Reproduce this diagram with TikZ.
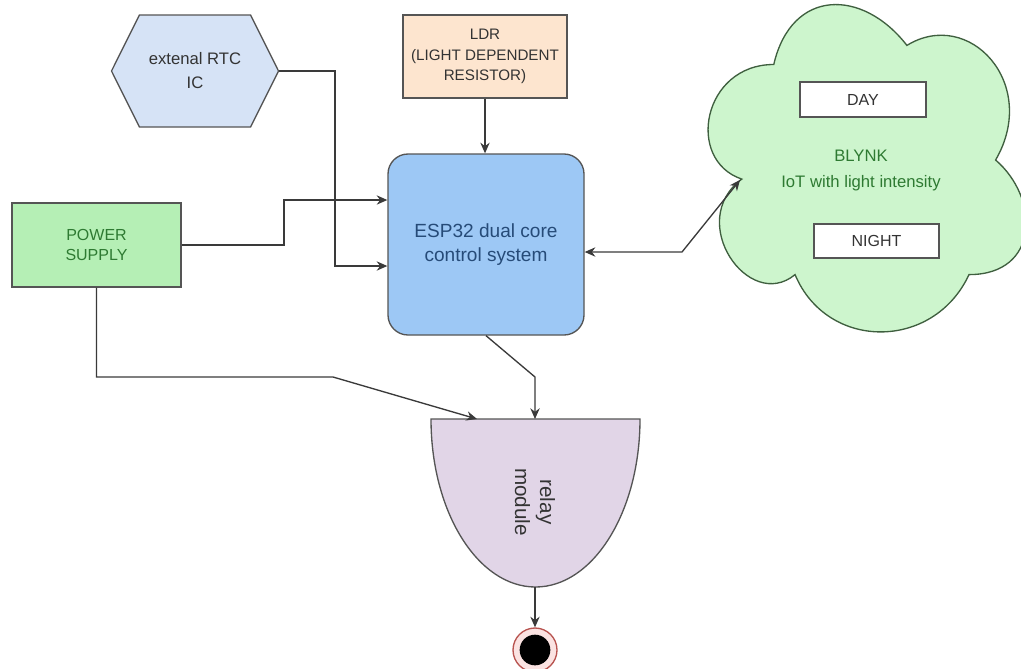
\documentclass[tikz,border=0pt]{standalone}
\usepackage{fontspec}
\setmainfont{Liberation Sans}
\usetikzlibrary{arrows.meta,shapes.symbols}

\definecolor{linegray}{HTML}{3A3A3A}
\definecolor{boxgray}{HTML}{555555}
\definecolor{textgray}{HTML}{333333}
\definecolor{rtcblue}{HTML}{D6E3F6}
\definecolor{ldrpeach}{HTML}{FDE5CF}
\definecolor{espblue}{HTML}{9DC8F5}
\definecolor{esptext}{HTML}{264B78}
\definecolor{psgreen}{HTML}{B5EFB5}
\definecolor{pstext}{HTML}{2E7A32}
\definecolor{cloudgreen}{HTML}{CDF5CD}
\definecolor{cloudline}{HTML}{3F5F3F}
\definecolor{relaypurple}{HTML}{E1D5E7}
\definecolor{endred}{HTML}{B85450}
\definecolor{endpink}{HTML}{FBE3E2}

\begin{document}
\begin{tikzpicture}[x=0.75pt, y=-0.75pt, line width=1pt,
    box/.style={draw=boxgray, align=center, inner sep=0pt},
    arr/.style={draw=linegray, -{Stealth[length=8pt,width=7pt]}},
    dblarr/.style={draw=linegray, {Stealth[length=8pt,width=7pt]}-{Stealth[length=8pt,width=7pt]}}]
    \useasboundingbox (0,0) rectangle (1021,668);

    % blocks
    \node[box, signal, signal to=west and east, signal pointer angle=127, fill=rtcblue,
          minimum width=125.25pt, minimum height=84pt, text=textgray,
          font=\fontsize{12.5}{18}\selectfont] (rtc) at (195,71) {extenal RTC\\IC};
    \node[box, rectangle, fill=ldrpeach, minimum width=123pt, minimum height=62.25pt,
          text=textgray, font=\fontsize{11.4}{15.4}\selectfont] (ldr) at (485,56.5)
          {LDR\\(LIGHT DEPENDENT\\RESISTOR)};
    \node[box, rectangle, rounded corners=15pt, fill=espblue, minimum width=147pt,
          minimum height=135.75pt, text=esptext, font=\fontsize{14.3}{18}\selectfont]
          (esp) at (486,244.5) {ESP32 dual core\\control system};
    \node[box, rectangle, fill=psgreen, minimum width=126.75pt, minimum height=63pt,
          text=pstext, font=\fontsize{12}{15}\selectfont] (ps) at (96.5,245) {POWER\\SUPPLY};

    % cloud (Blynk)
    \draw[draw=cloudline, fill=cloudgreen] (773.75,64.5)
        .. controls (702.75,64.5) and (685,160) .. (741.8,179.1)
        .. controls (685,221.1) and (748.9,312.8) .. (795.05,274.6)
        .. controls (827,351) and (933.5,351) .. (969,274.6)
        .. controls (1040,274.6) and (1040,198.2) .. (995.6,160)
        .. controls (1040,83.6) and (969,7.2) .. (906.9,45.4)
        .. controls (862.5,-11.9) and (791.5,-11.9) .. (773.75,64.5) -- cycle;
    \node[box, rectangle, fill=white, minimum width=94.5pt, minimum height=26.25pt,
          text=textgray, font=\fontsize{12}{14}\selectfont] (day) at (863,99.5) {DAY};
    \node[box, rectangle, fill=white, minimum width=93.75pt, minimum height=25.5pt,
          text=textgray, font=\fontsize{12}{14}\selectfont] (night) at (876.5,241) {NIGHT};
    \node[align=center, text=pstext, font=\fontsize{12.5}{19.5}\selectfont] (blynk)
          at (861,170) {BLYNK\\IoT with light intensity};

    % relay module
    \draw[draw=boxgray, fill=relaypurple] (431,419) -- (640,419)
        arc[start angle=0, end angle=180, x radius=104.5, y radius=168] -- cycle;
    \node[align=center, rotate=-90, text=textgray, font=\fontsize{15.5}{18.75}\selectfont]
          (relay) at (535,502) {relay\\module};

    % end state
    \node[circle, draw=endred, fill=endpink, minimum size=33pt, inner sep=0pt] (endst) at (535,650) {};
    \node[circle, fill=black, minimum size=23pt, inner sep=0pt] (enddot) at (endst) {};

    % connectors
    \coordinate (rtcdown) at (335,266);
    \coordinate (psup) at (284,200);
    \coordinate (cloudbend) at (682,252);
    \coordinate (cloudin) at (740,180);
    \coordinate (relaybend) at (535,377);
    \coordinate (relaytop) at (535,419);
    \coordinate (psdown) at (333,377);
    \coordinate (relayleft) at (477,419);
    \coordinate (relaybot) at (535,587);

    \draw[arr] (rtc.east) -| (rtcdown) -- (esp.west |- rtcdown);
    \draw[arr] (ps.east) -| (psup) -- (esp.west |- psup);
    \draw[arr] (ldr.south) -- (ldr.south |- esp.north);
    \draw[dblarr] (esp.east |- cloudbend) -- (cloudbend) -- (cloudin);
    \draw[arr] (esp.south) -- (relaybend) -- (relaytop);
    \draw[arr] (ps.south) |- (psdown) -- (relayleft);
    \draw[arr] (relaybot) -- (endst.north);
\end{tikzpicture}
\end{document}
